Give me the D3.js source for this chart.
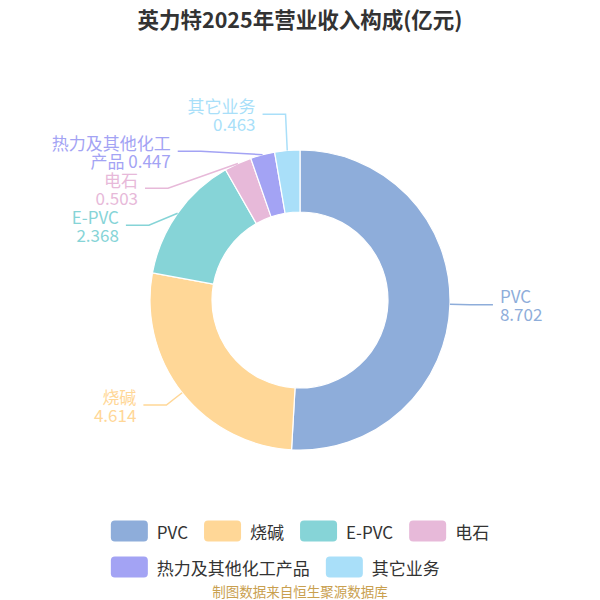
<!DOCTYPE html>
<html>
<head>
<meta charset="utf-8">
<script src="https://cdn.jsdelivr.net/npm/d3@7/dist/d3.min.js"></script>
<style>
  html, body { margin: 0; padding: 0; background: #fff; }
  svg { display: block; font-family: "Noto Sans CJK SC", "Noto Sans", sans-serif; }
</style>
</head>
<body>
<svg id="chart" width="600" height="600"></svg>
<script>
const title = "英力特2025年营业收入构成(亿元)";
const categories = ["PVC", "烧碱", "E-PVC", "电石", "热力及其他化工产品", "其它业务"];
const values = [8.702, 4.614, 2.368, 0.503, 0.447, 0.463];
const labelNames = [["PVC"], ["烧碱"], ["E-PVC"], ["电石"], ["热力及其他化工", "产品 "], ["其它业务"]];
const colors = ["#8eadda", "#ffd797", "#86d4d7", "#e7b9d9", "#a3a3f4", "#a9dff9"];
const source = "制图数据来自恒生聚源数据库";

const svg = d3.select("#chart");
const W = 600, H = 600;
const cx = 300, cy = 300, rOuter = 150, rInner = 88;
const len1 = 20, len2 = 23, rEllipseA = 165, labelGap = 37;

svg.append("text")
  .attr("x", W / 2).attr("y", 18)
  .attr("text-anchor", "middle")
  .attr("dominant-baseline", "central")
  .attr("font-size", 21.5).attr("font-weight", "bold")
  .attr("fill", "#333")
  .text(title);

const data = categories.map((c, i) => ({ name: c, value: values[i], color: colors[i], lines: labelNames[i], idx: i }));
const pie = d3.pie().value(d => d.value).sort(null);
const arcs = pie(data);
const arc = d3.arc().innerRadius(rInner).outerRadius(rOuter);

const g = svg.append("g").attr("transform", `translate(${cx},${cy})`);
g.selectAll("path.slice").data(arcs).enter().append("path")
  .attr("class", "slice")
  .attr("d", arc)
  .attr("fill", d => d.data.color)
  .attr("stroke", "#fff").attr("stroke-width", 1.2).attr("stroke-linejoin", "round");

// label layout
const items = arcs.map(a => {
  const mid = (a.startAngle + a.endAngle) / 2;
  const sx = Math.sin(mid), sy = -Math.cos(mid);
  const p0 = [cx + rOuter * sx, cy + rOuter * sy];
  const p1 = [cx + (rOuter + len1) * sx, cy + (rOuter + len1) * sy];
  const dir = sx >= 0 ? 1 : -1;
  return { a, mid, p0, p1, dir, y: p1[1], natY: p1[1], elbowX: p1[0], adjusted: false };
});

function layoutSemi(list) {
  if (list.length < 2) return;
  list.sort((a, b) => a.natY - b.natY);
  const ys = list.map(d => d.natY);
  let moved = false;
  for (let i = 1; i < ys.length; i++) {
    if (ys[i] - ys[i - 1] < labelGap) { ys[i] = ys[i - 1] + labelGap; moved = true; }
  }
  if (!moved) return;
  let excess = 0;
  ys.forEach((y, i) => excess += y - list[i].natY);
  const shift = excess / ys.length / 2;
  list.forEach((d, i) => { d.y = ys[i] - shift; d.adjusted = true; });
  const rB = Math.max(d3.max(list, d => Math.abs(d.y - cy)) + 0.5, rEllipseA);
  list.forEach(d => {
    const dy = Math.abs(d.y - cy);
    const dx = Math.sqrt(Math.max(0, 1 - dy * dy / (rB * rB))) * rEllipseA;
    // if the ellipse collapses to the centre, keep the natural elbow x
    d.elbowX = dx < Math.abs(d.p1[0] - cx) && dy > rB - 1 ? d.p1[0] : cx + dx * d.dir;
  });
}
const semis = [
  items.filter(d => d.dir < 0 && d.natY < cy),
  items.filter(d => d.dir < 0 && d.natY >= cy),
  items.filter(d => d.dir > 0 && d.natY < cy),
  items.filter(d => d.dir > 0 && d.natY >= cy)
];
semis.forEach(layoutSemi);

const lblG = svg.append("g");
const fmt = d3.format(".3f");
items.forEach(d => {
  const p1 = d.adjusted ? [d.elbowX, d.y] : d.p1;
  const p2 = [p1[0] + d.dir * len2, d.y];
  lblG.append("path")
    .attr("d", d3.line()([d.p0, p1, p2]))
    .attr("fill", "none")
    .attr("stroke", d.a.data.color)
    .attr("stroke-width", 1.5);
  const tx = p2[0] + d.dir * 7;
  const lines = d.a.data.lines.slice();
  const valStr = fmt(d.a.data.value);
  if (lines.length > 1) lines[lines.length - 1] = lines[lines.length - 1] + valStr;
  else lines.push(valStr);
  const lh = 18;
  lines.forEach((ln, i) => {
    lblG.append("text")
      .attr("text-anchor", d.dir > 0 ? "start" : "end")
      .attr("font-size", 17)
      .attr("fill", d.a.data.color)
      .attr("x", tx)
      .attr("y", d.y + (i - (lines.length - 1) / 2) * lh)
      .attr("dominant-baseline", "central")
      .text(ln);
  });
});

// legend
const legendFont = 17, swW = 37, swH = 21, swGap = 9, itemGap = 16, maxRowW = 440;
const meas = svg.append("text").attr("font-size", legendFont).attr("visibility", "hidden");
const legItems = data.map(d => {
  meas.text(d.name);
  const tw = meas.node().getComputedTextLength();
  return { d, w: swW + swGap + tw };
});
meas.remove();
const rows = [[]];
let rowW = 0;
legItems.forEach(it => {
  const add = (rows[rows.length - 1].length ? itemGap : 0) + it.w;
  if (rowW + add > maxRowW && rows[rows.length - 1].length) { rows.push([it]); rowW = it.w; }
  else { rows[rows.length - 1].push(it); rowW += add; }
});
const rowWidths = rows.map(r => d3.sum(r, it => it.w) + itemGap * (r.length - 1));
const legLeft = (W - d3.max(rowWidths)) / 2;
const legTop = 531, rowStep = 36;
const legG = svg.append("g");
rows.forEach((r, ri) => {
  let x = legLeft;
  const y = legTop + ri * rowStep;
  r.forEach(it => {
    legG.append("rect")
      .attr("x", x).attr("y", y - swH / 2)
      .attr("width", swW).attr("height", swH)
      .attr("rx", 4).attr("ry", 4)
      .attr("fill", it.d.color);
    legG.append("text")
      .attr("x", x + swW + swGap).attr("y", y)
      .attr("dominant-baseline", "central")
      .attr("font-size", legendFont).attr("fill", "#333")
      .text(it.d.name);
    x += it.w + itemGap;
  });
});

svg.append("text")
  .attr("x", W / 2).attr("y", 591)
  .attr("text-anchor", "middle")
  .attr("dominant-baseline", "central")
  .attr("font-size", 13.5).attr("fill", "#c9a04f")
  .text(source);
</script>
</body>
</html>
